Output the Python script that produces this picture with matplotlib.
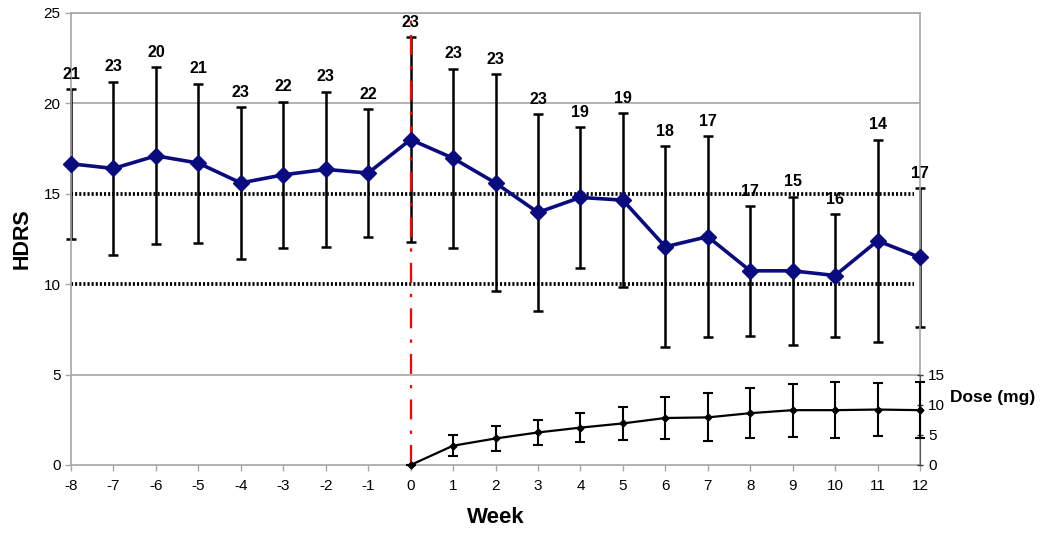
import matplotlib
matplotlib.use("Agg")
import matplotlib.pyplot as plt
import numpy as np

plt.rcParams['font.family'] = ['Liberation Sans', 'DejaVu Sans']
plt.rcParams['axes.unicode_minus'] = False

weeks = list(range(-8, 13))
hdrs_mean = [16.66, 16.4, 17.1, 16.7, 15.6, 16.05, 16.35, 16.15, 18.0,
             16.97, 15.6, 13.97, 14.8, 14.65, 12.07, 12.63, 10.74, 10.74, 10.48, 12.4, 11.48]
hdrs_sd = [4.15, 4.8, 4.9, 4.4, 4.2, 4.05, 4.3, 3.55, 5.65,
           4.95, 6.0, 5.45, 3.9, 4.8, 5.55, 5.55, 3.6, 4.1, 3.4, 5.6, 3.85]
n_labels = [21, 23, 20, 21, 23, 22, 23, 22, 23,
            23, 23, 23, 19, 19, 18, 17, 17, 15, 16, 14, 17]

dose_weeks = list(range(0, 13))
dose_mean = [0.0, 3.2, 4.4, 5.4, 6.2, 6.9, 7.8, 7.9, 8.6, 9.1, 9.1, 9.2, 9.1]
dose_sd = [0.0, 1.75, 2.15, 2.1, 2.35, 2.7, 3.5, 4.0, 4.2, 4.4, 4.65, 4.4, 4.65]

fig = plt.figure(figsize=(10.5, 5.36), dpi=100)
ax = fig.add_axes([71/1050, (536-465)/536, (920-71)/1050, (465-13)/536])

gray = '#a6a6a6'
ax.set_xlim(-8, 12)
ax.set_ylim(0, 25)
ax.set_yticks([0, 5, 10, 15, 20, 25])
ax.set_xticks(weeks)
for y in [5, 20, 25]:
    ax.axhline(y, color=gray, lw=1.2, zorder=0)
for s in ax.spines.values():
    s.set_color(gray)
    s.set_linewidth(1.2)
ax.tick_params(axis='both', colors=gray, labelcolor='black', labelsize=11, length=4, width=1)
ax.tick_params(axis='x', pad=6)

# threshold dotted lines
for thr in [15, 10]:
    ax.plot([-8, 11.85], [thr, thr], color='black', lw=2.7, linestyle=(0, (0.55, 0.55)),
            dash_capstyle='butt', zorder=1, clip_on=False)

# red baseline marker
ax.axvline(0, color='red', lw=1.6, linestyle=(0, (9, 5, 1.5, 5)), zorder=2.5)

ax.errorbar(weeks, hdrs_mean, yerr=hdrs_sd, fmt='none', ecolor='black', elinewidth=1.8,
            capsize=3.5, capthick=1.8, zorder=2, clip_on=False)
ax.plot(weeks, hdrs_mean, color='#0b0b80', lw=2.6, marker='D', markersize=8, zorder=4,
        clip_on=False)

for w, m, s, n in zip(weeks, hdrs_mean, hdrs_sd, n_labels):
    ax.text(w, m + s + 0.4, str(n), ha='center', va='bottom', fontsize=11.5,
            fontweight='bold', zorder=5)

ax.set_ylabel('HDRS', fontsize=15.5, fontweight='bold', labelpad=8)
ax.set_xlabel('Week', fontsize=16, fontweight='bold', labelpad=10)

ax2 = ax.twinx()
ax2.set_ylim(0, 75)
ax2.set_yticks([0, 5, 10, 15])
for name, s in ax2.spines.items():
    s.set_visible(name == 'right')
ax2.spines['right'].set_bounds(0, 15)
ax2.spines['right'].set_color('#555555')
ax2.tick_params(axis='y', colors='#333333', labelcolor='black', labelsize=11, length=5,
                direction='inout', width=1)
ax2.errorbar(dose_weeks, dose_mean, yerr=dose_sd, fmt='none', ecolor='black', elinewidth=1.5,
             capsize=3.5, capthick=1.5, zorder=3, clip_on=False)
ax2.plot(dose_weeks, dose_mean, color='black', lw=1.6, marker='D', markersize=3.5, zorder=4,
         clip_on=False)
ax2.text(1.035, 11.2, 'Dose (mg)', transform=ax2.get_yaxis_transform(), ha='left', va='center',
         fontsize=12.5, fontweight='bold')

fig.savefig('out.png', dpi=100)
